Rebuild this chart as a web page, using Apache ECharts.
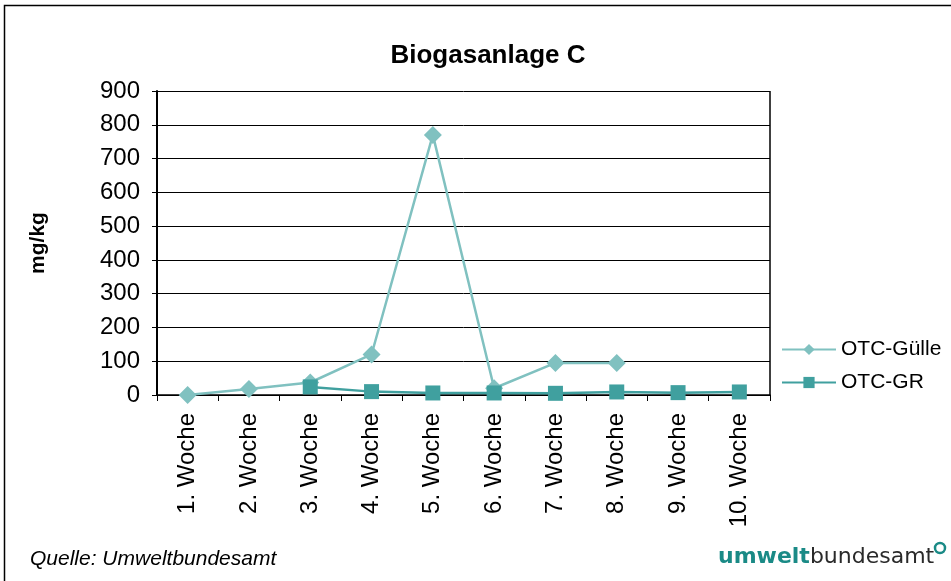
<!DOCTYPE html>
<html>
<head>
<meta charset="utf-8">
<script src="https://cdn.jsdelivr.net/npm/echarts@6/dist/echarts.min.js"></script>
<style>
    html, body {margin:0;padding:0;background:#ffffff;}
    #chart {width:951px;height:581px;}
</style>
</head>
<body>
<div id="chart"></div>
<script>
    // Wochen und Messwerte (mg/kg)
    var wochen = ['1. Woche', '2. Woche', '3. Woche', '4. Woche', '5. Woche', '6. Woche', '7. Woche', '8. Woche', '9. Woche', '10. Woche'];
    var otcGuelle = [0, 18, 37, 120, 770, 20, 95, 95, null, null];
    var otcGR = [null, null, 24, 10, 6, 6, 5, 9, 7, 9];
    var yTicks = [0, 100, 200, 300, 400, 500, 600, 700, 800, 900];

    var chart = echarts.init(document.getElementById('chart'));

    var option = {
        backgroundColor: '#ffffff',
        animation: false,
        title: {
            text: 'Biogasanlage C',
            left: 483,
            top: 38,
            textAlign: 'center',
            textStyle: {fontFamily: 'Liberation Sans, Arial', fontSize: 26, fontWeight: 'bold', color: '#000'}
        },
        legend: {
            orient: 'vertical',
            left: 776,
            top: 334,
            itemWidth: 54,
            itemHeight: 14,
            itemGap: 12,
            textStyle: {fontFamily: 'Liberation Sans, Arial', fontSize: 21, color: '#000'},
            data: ['OTC-Gülle', 'OTC-GR']
        },
        grid: {left: 157, top: 91, width: 613, height: 304, containLabel: false},
        xAxis: {
            type: 'category',
            data: wochen,
            boundaryGap: true,
            axisLine: {lineStyle: {color: '#000', width: 1.5}},
            axisTick: {show: true, inside: false, length: 6, lineStyle: {color: '#000'}},
            axisLabel: {rotate: 90, margin: 18, fontFamily: 'Liberation Sans, Arial', fontSize: 24, color: '#000'},
            splitLine: {show: false}
        },
        yAxis: [{
            type: 'value',
            min: 0,
            max: 900,
            interval: 100,
            name: 'mg/kg',
            nameLocation: 'middle',
            nameGap: 108,
            nameRotate: 90,
            nameTextStyle: {fontFamily: 'Liberation Sans, Arial', fontSize: 21, fontWeight: 'bold', color: '#000'},
            axisLine: {show: true, lineStyle: {color: '#000', width: 2}},
            axisTick: {show: true, length: 5, lineStyle: {color: '#000'}},
            axisLabel: {margin: 17, fontFamily: 'Liberation Sans, Arial', fontSize: 24, color: '#000',
                formatter: function (v) { return yTicks.indexOf(v) >= 0 ? String(v) : ''; }},
            splitLine: {show: true, lineStyle: {color: '#000', width: 1}}
        }],
        series: [
            {
                name: 'OTC-Gülle',
                type: 'line',
                data: otcGuelle,
                connectNulls: false,
                symbol: 'diamond',
                symbolSize: 18,
                itemStyle: {color: '#80c1c0'},
                lineStyle: {color: '#80c1c0', width: 2.5},
                z: 3
            },
            {
                name: 'OTC-GR',
                type: 'line',
                data: otcGR,
                connectNulls: false,
                symbol: 'rect',
                symbolSize: 15,
                itemStyle: {color: '#40a09f'},
                lineStyle: {color: '#40a09f', width: 2.5},
                z: 4
            }
        ],
        graphic: [
            // Rahmen um das Diagramm
            {type: 'rect', shape: {x: 4.5, y: 5.5, width: 960, height: 600}, style: {fill: null, stroke: '#000', lineWidth: 1.5}, silent: true},
            // rechte Begrenzung der Zeichenfläche
            {type: 'line', shape: {x1: 770, y1: 91, x2: 770, y2: 395}, style: {stroke: '#000', lineWidth: 1.5}, silent: true},
            {type: 'text', left: 30, top: 549, style: {text: 'Quelle: Umweltbundesamt', font: 'italic 21px "Liberation Sans", Arial', fill: '#000'}},
            {
                type: 'text', left: 718, top: 546,
                style: {
                    text: '{a|umwelt}{b|bundesamt}',
                    rich: {
                        a: {font: 'bold 22px "DejaVu Sans", sans-serif', fill: '#1a8a86'},
                        b: {font: '22px "DejaVu Sans", sans-serif', fill: '#2a2a2a'}
                    }
                }
            },
            {type: 'circle', shape: {cx: 940, cy: 548, r: 5}, style: {fill: null, stroke: '#1a8a86', lineWidth: 2.5}}
        ]
    };

    chart.setOption(option);
</script>
</body>
</html>
